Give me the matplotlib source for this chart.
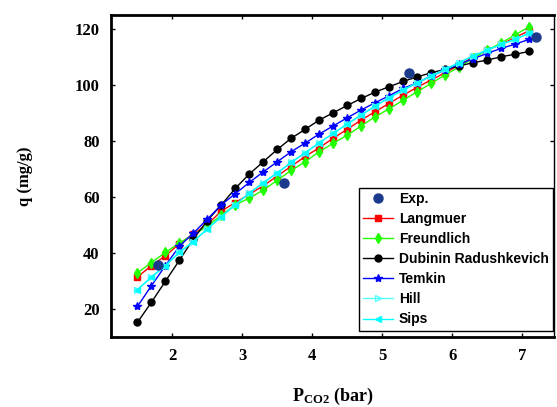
import numpy as np
import matplotlib
matplotlib.use('Agg')
import matplotlib.pyplot as plt

plt.rcParams['mathtext.fontset'] = 'custom'
plt.rcParams['mathtext.rm'] = 'Liberation Serif'
plt.rcParams['mathtext.bf'] = 'Liberation Serif:bold'

# pressure grid of the model curves (bar)
p = [1.5, 1.7, 1.9, 2.1, 2.3, 2.5, 2.7, 2.9, 3.1, 3.3, 3.5, 3.7, 3.9, 4.1, 4.3,
     4.5, 4.7, 4.9, 5.1, 5.3, 5.5, 5.7, 5.9, 6.1, 6.3, 6.5, 6.7, 6.9, 7.1]

exp_p = [1.8, 3.6, 5.38, 7.2]
exp_q = [35.6, 65.1, 104.3, 117.1]

langmuer = [31.4, 35.5, 39.0, 43.3, 46.8, 50.2, 55.0, 58.0, 61.0, 64.0, 67.5, 71.0,
            74.5, 77.6, 81.0, 84.2, 87.5, 90.5, 93.5, 96.4, 99.2, 101.8, 104.4,
            107.1, 110.0, 112.5, 114.5, 117.0, 119.4]
freundlich = [32.9, 36.6, 40.2, 43.6, 46.5, 49.6, 53.5, 57.2, 59.6, 62.5, 66.0, 69.5,
              72.6, 76.2, 79.2, 82.1, 85.4, 88.7, 91.5, 94.6, 97.6, 100.6, 103.6,
              106.5, 109.5, 112.5, 115.0, 117.9, 120.8]
dubinin = [15.2, 22.4, 29.9, 37.4, 45.0, 51.6, 57.2, 63.1, 68.2, 72.6, 77.0, 81.0,
           84.2, 87.5, 90.1, 92.7, 95.2, 97.5, 99.4, 101.3, 102.9, 104.4, 105.6,
           106.8, 108.0, 108.9, 110.1, 111.0, 112.0]
temkin = [20.9, 28.3, 35.5, 42.4, 47.1, 52.1, 57.2, 61.2, 65.2, 69.0, 72.6, 76.2,
          79.3, 82.5, 85.4, 88.3, 91.1, 93.7, 96.2, 98.8, 100.8, 103.2, 105.4,
          107.4, 109.4, 111.3, 113.1, 114.6, 116.3]
hill = [26.9, 31.4, 35.5, 40.2, 44.1, 48.6, 53.0, 57.2, 61.4, 65.1, 68.6, 72.4,
        75.8, 79.4, 82.7, 86.1, 89.3, 92.5, 95.5, 98.2, 100.8, 103.2, 105.6,
        108.0, 110.4, 112.5, 114.5, 116.3, 118.5]
sips = [26.9, 31.4, 35.5, 40.2, 44.1, 48.6, 53.0, 57.2, 61.4, 65.1, 68.6, 72.4,
        75.8, 79.4, 82.7, 86.1, 89.3, 92.5, 95.5, 98.2, 100.8, 103.2, 105.6,
        108.0, 110.4, 112.5, 114.5, 116.3, 118.5]

fig = plt.figure(figsize=(5.57, 4.07), dpi=100)
ax = fig.add_axes([0.199, 0.172, 0.796, 0.791])

ax.plot(exp_p, exp_q, 'o', color='#1c3a8c', ms=6.5, label='Exp.', zorder=5)
ax.plot(p, langmuer, '-s', color='red', ms=4.5, lw=1, label='Langmuer')
ax.plot(p, freundlich, '-d', color='#22ff00', ms=5, lw=1, label='Freundlich')
ax.plot(p, dubinin, '-o', color='black', ms=5, lw=1, label='Dubinin Radushkevich')
ax.plot(p, temkin, '-*', color='blue', ms=6, lw=1, label='Temkin')
ax.plot(p, hill, '->', color='#55ffff', mfc='none', ms=5, lw=1, label='Hill')
ax.plot(p, sips, '-<', color='cyan', ms=5, lw=1, label='Sips')

ax.set_xlim(1.12, 7.46)
ax.set_ylim(10, 125)
ax.set_xticks([2, 3, 4, 5, 6, 7])
ax.set_yticks([20, 40, 60, 80, 100, 120])
ax.tick_params(direction='in', length=3, width=1, top=True, right=True, pad=8)
for lab in ax.get_xticklabels() + ax.get_yticklabels():
    lab.set_fontfamily('Liberation Serif')
    lab.set_fontweight('bold')
    lab.set_fontsize(12)
for s in ['left', 'bottom', 'top']:
    ax.spines[s].set_linewidth(2)
ax.spines['right'].set_linewidth(1)

ax.set_xlabel(r'$\mathbf{P_{CO2}}$ (bar)', fontfamily='Liberation Serif',
              fontweight='bold', fontsize=13, labelpad=16)
ax.set_ylabel('q (mg/g)', fontfamily='Liberation Serif', fontweight='bold',
              fontsize=12, labelpad=30)

leg = ax.legend(loc='lower right', bbox_to_anchor=(0.997, 0.02),
                prop={'family': 'Liberation Sans', 'weight': 'bold', 'size': 10},
                fancybox=False, edgecolor='black', framealpha=1, handlelength=2.2,
                labelspacing=0.44, borderaxespad=0.0, handletextpad=0.4, borderpad=0.3)
leg.get_frame().set_linewidth(1)

fig.savefig('out.png', dpi=100)
